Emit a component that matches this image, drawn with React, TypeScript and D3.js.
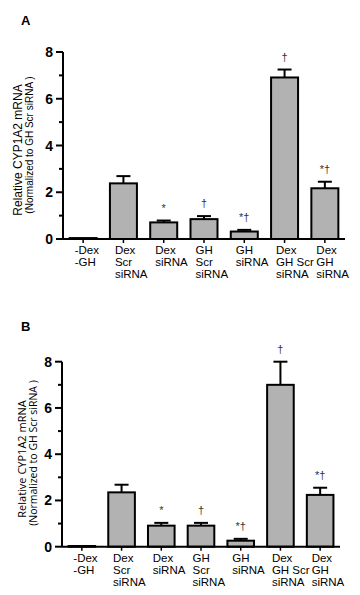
import React from "react";
import * as d3 from "d3";

const categories = [
  ["-Dex", "-GH"],
  ["Dex", "Scr", "siRNA"],
  ["Dex", "siRNA"],
  ["GH", "Scr", "siRNA"],
  ["GH", "siRNA"],
  ["Dex", "GH Scr", "siRNA"],
  ["Dex", "GH", "siRNA"],
];
const marks = ["", "", "*", "†", "*†", "†", "*†"];

const valuesA = [0.04, 2.38, 0.71, 0.85, 0.32, 6.91, 2.17];
const errorsA = [0, 0.31, 0.08, 0.13, 0.07, 0.34, 0.28];

const valuesB = [0.03, 2.35, 0.91, 0.91, 0.26, 7.0, 2.24];
const errorsB = [0, 0.33, 0.12, 0.12, 0.08, 1.0, 0.31];

const majorTicks = [0, 2, 4, 6, 8];
const minorTicks = [1, 3, 5, 7];

const labelFont = "'Liberation Sans', Arial, sans-serif";

type PanelProps = {
  letter: string;
  letterY: number;
  values: number[];
  errors: number[];
  x0: number;
  x1: number;
  yTop: number;
  yBase: number;
  yFont: string;
  ySizes: [number, number];
  yLabelX: [number, number];
  yLabelY: [number, number];
};

const Panel = ({ letter, letterY, values, errors, x0, x1, yTop, yBase, yFont, ySizes, yLabelX, yLabelY }: PanelProps) => {
  const x = d3.scaleBand<number>().domain(d3.range(values.length)).range([x0, x1]).paddingInner(0.33).paddingOuter(0.165);
  const y = d3.scaleLinear().domain([0, 8]).range([yBase, yTop]);
  const bw = x.bandwidth();

  return (
    <g>
      <text x={21} y={letterY} fontFamily={labelFont} fontWeight="bold" fontSize={13}>{letter}</text>

      {/* y axis */}
      <line x1={x0} x2={x0} y1={y(8)} y2={y(0)} stroke="#000" strokeWidth={2} />
      {majorTicks.map((t) => (
        <g key={"M" + t}>
          <line x1={x0 - 7} x2={x0} y1={y(t)} y2={y(t)} stroke="#000" strokeWidth={2} />
          <text x={x0 - 10} y={y(t) + 5} textAnchor="end" fontFamily={labelFont} fontWeight="bold" fontSize={14}>{t}</text>
        </g>
      ))}
      {minorTicks.map((t) => (
        <line key={"m" + t} x1={x0 - 4} x2={x0} y1={y(t)} y2={y(t)} stroke="#000" strokeWidth={2} />
      ))}

      {/* y label */}
      <text transform={`translate(${yLabelX[0]},${yLabelY[0]}) rotate(-90)`} textAnchor="middle" fontFamily={yFont} fontSize={ySizes[0]}>
        Relative CYP1A2 mRNA
      </text>
      <text transform={`translate(${yLabelX[1]},${yLabelY[1]}) rotate(-90)`} textAnchor="middle" fontFamily={yFont} fontSize={ySizes[1]}>
        (Normalized to GH Scr siRNA )
      </text>

      {/* bars */}
      {values.map((v, i) => {
        const bx = x(i)!;
        const cx = bx + bw / 2;
        const top = y(v + errors[i]);
        return (
          <g key={i}>
            {errors[i] > 0 && (
              <g stroke="#000" strokeWidth={2}>
                <line x1={cx} x2={cx} y1={y(v)} y2={top} />
                <line x1={cx - 7} x2={cx + 7} y1={top} y2={top} />
              </g>
            )}
            <rect x={bx} y={y(v)} width={bw} height={y(0) - y(v)} fill="#b2b2b2" stroke="#000" strokeWidth={2} />
            <line x1={cx} x2={cx} y1={y(0)} y2={y(0) + 4} stroke="#000" strokeWidth={1.5} />
            {marks[i] && (
              <text x={cx} y={top - 9} textAnchor="middle" fontFamily={labelFont} fontSize={11} fill="#333">{marks[i]}</text>
            )}
            {categories[i].map((s, j) => (
              <text key={j} x={cx - 8.5} y={yBase + 15 + j * 12} fontFamily={labelFont} fontSize={11.5}>{s}</text>
            ))}
          </g>
        );
      })}

      {/* x axis */}
      <line x1={x0} x2={x1} y1={y(0)} y2={y(0)} stroke="#000" strokeWidth={2} />
    </g>
  );
};

export default function App() {
  return (
    <svg width={360} height={595} style={{ display: "block", position: "absolute", left: 0, top: 0, background: "#fff" }}>
      <Panel
        letter="A"
        letterY={25}
        values={valuesA}
        errors={errorsA}
        x0={63}
        x1={345}
        yTop={52}
        yBase={239}
        yFont={labelFont}
        ySizes={[12, 10]}
        yLabelX={[22, 33]}
        yLabelY={[150, 145]}
      />
      <Panel
        letter="B"
        letterY={331}
        values={valuesB}
        errors={errorsB}
        x0={62}
        x1={340}
        yTop={361.7}
        yBase={546.7}
        yFont="'Open Sans', sans-serif"
        ySizes={[11, 10.5]}
        yLabelX={[26, 37]}
        yLabelY={[459, 453]}
      />
    </svg>
  );
}
